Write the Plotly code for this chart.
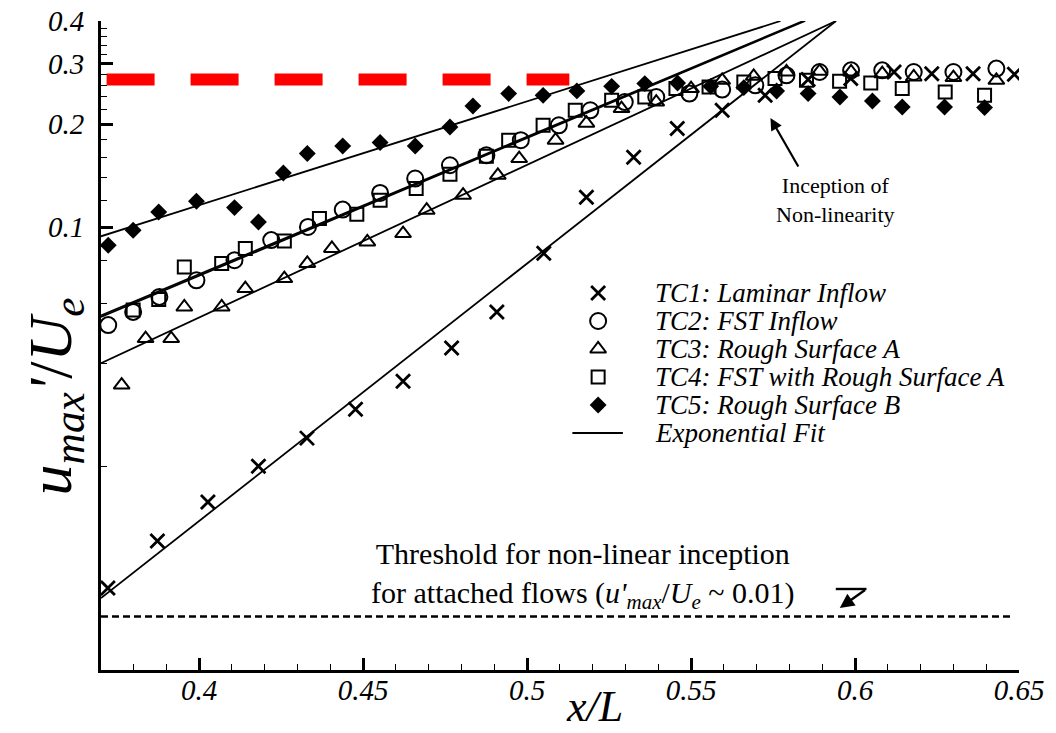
import math
import plotly.graph_objects as go

# ---- measured peak disturbance amplitude u'max/Ue along x/L ----
tc1_x = [0.3722, 0.3873, 0.4027, 0.4181, 0.4329, 0.4477, 0.4622, 0.4770, 0.4908, 0.5051,
         0.5181, 0.5325, 0.5458, 0.5595, 0.5726, 0.5857, 0.5987, 0.6119, 0.6234, 0.6360, 0.6486]
tc1_u = [0.00884, 0.01213, 0.01576, 0.02007, 0.02423, 0.02944, 0.03553, 0.0444, 0.0566, 0.0839,
         0.1223, 0.1601, 0.1941, 0.2195, 0.2427, 0.2698, 0.2716, 0.2839, 0.2808, 0.2808, 0.2795]

tc2_x = [0.3723, 0.3799, 0.3879, 0.3992, 0.4108, 0.4220, 0.4332, 0.4438, 0.4552, 0.4659,
         0.4765, 0.4876, 0.4981, 0.5097, 0.5193, 0.5298, 0.5394, 0.5495, 0.5595, 0.5696,
         0.5791, 0.5892, 0.5988, 0.6083, 0.6179, 0.6300, 0.6431]
tc2_u = [0.0518, 0.0566, 0.0626, 0.0700, 0.0801, 0.0917, 0.1002, 0.1126, 0.1259, 0.1387,
         0.1517, 0.1622, 0.1795, 0.1984, 0.2195, 0.2320, 0.2400, 0.2455, 0.2522, 0.2596,
         0.2776, 0.2839, 0.2871, 0.2871, 0.2839, 0.2839, 0.2905]

tc3_x = [0.3764, 0.3837, 0.3915, 0.3955, 0.4069, 0.4141, 0.4260, 0.4330, 0.4405, 0.4513,
         0.4622, 0.4694, 0.4805, 0.4911, 0.4976, 0.5087, 0.5181, 0.5288, 0.5394, 0.5500,
         0.5595, 0.5691, 0.5791, 0.5892, 0.5988, 0.6083, 0.6179, 0.6300, 0.6431]
tc3_u = [0.0346, 0.0473, 0.0473, 0.0585, 0.0585, 0.0662, 0.0708, 0.0784, 0.0867, 0.0906,
         0.0958, 0.1121, 0.1240, 0.1418, 0.1586, 0.1795, 0.2013, 0.2220, 0.2320, 0.2539,
         0.2685, 0.2758, 0.2839, 0.2852, 0.2839, 0.2808, 0.2745, 0.2734, 0.2685]

tc4_x = [0.3799, 0.3877, 0.3955, 0.4069, 0.4141, 0.4260, 0.4367, 0.4481, 0.4552, 0.4662,
         0.4765, 0.4876, 0.4944, 0.5049, 0.5147, 0.5258, 0.5359, 0.5454, 0.5555, 0.5661,
         0.5756, 0.5852, 0.5953, 0.6048, 0.6144, 0.6275, 0.6395]
tc4_u = [0.0573, 0.0615, 0.0766, 0.0784, 0.0867, 0.0912, 0.1060, 0.1091, 0.1199, 0.1297,
         0.1428, 0.1611, 0.1795, 0.1984, 0.2195, 0.2347, 0.2400, 0.2539, 0.2566, 0.2655,
         0.2716, 0.2685, 0.2667, 0.2637, 0.2539, 0.2482, 0.2427]

tc5_x = [0.3723, 0.3799, 0.3877, 0.3992, 0.4108, 0.4181, 0.4257, 0.4330, 0.4438, 0.4552,
         0.4659, 0.4765, 0.4835, 0.4944, 0.5049, 0.5152, 0.5258, 0.5359, 0.5459, 0.5560,
         0.5661, 0.5761, 0.5857, 0.5954, 0.6053, 0.6144, 0.6273, 0.6395]
tc5_u = [0.0886, 0.0980, 0.1108, 0.1191, 0.1141, 0.1036, 0.1440, 0.1641, 0.1727, 0.1767,
         0.1727, 0.1962, 0.2259, 0.2455, 0.2427, 0.2500, 0.2578, 0.2626, 0.2637, 0.2578,
         0.2556, 0.2498, 0.2455, 0.2400, 0.2336, 0.2244, 0.2244, 0.2235]

# ---- exponential fits (straight lines on the log axis), end points ----
tc1_fit_x = [0.3701, 0.5942]
tc1_fit_u = [0.00827, 0.40]
tc2_fit_x = [0.3701, 0.5842]
tc2_fit_u = [0.0553, 0.40]
tc3_fit_x = [0.3701, 0.5942]
tc3_fit_u = [0.0401, 0.40]
tc4_fit_x = [0.3701, 0.5848]
tc4_fit_u = [0.0547, 0.40]
tc5_fit_x = [0.3701, 0.5773]
tc5_fit_u = [0.0941, 0.40]

# ---- reference levels ----
saturation_x = [0.3718, 0.5129]
saturation_u = [0.27, 0.27]
threshold_x = [0.3701, 0.6482]
threshold_u = [0.0073, 0.0073]

# ---- axis ticks ----
x_ticks = [0.4, 0.45, 0.5, 0.55, 0.6, 0.65]
x_tick_text = ["0.4", "0.45", "0.5", "0.55", "0.6", "0.65"]
y_ticks = [0.1, 0.2, 0.3, 0.4]
y_tick_text = ["0.1", "0.2", "0.3", "0.4"]
y_minor_ticks = [0.02, 0.04, 0.06, 0.08, 0.12, 0.14, 0.16, 0.18, 0.22, 0.24, 0.26, 0.28,
                 0.32, 0.34, 0.36, 0.38]

SERIF = "Liberation Serif"
BLACK = "black"

fig = go.Figure()

fit_line = dict(color=BLACK, width=1.8)
for fx, fu in [(tc5_fit_x, tc5_fit_u), (tc2_fit_x, tc2_fit_u), (tc4_fit_x, tc4_fit_u),
               (tc3_fit_x, tc3_fit_u), (tc1_fit_x, tc1_fit_u)]:
    fig.add_trace(go.Scatter(x=fx, y=fu, mode="lines", line=fit_line, showlegend=False,
                             hoverinfo="skip"))

fig.add_trace(go.Scatter(x=saturation_x, y=saturation_u, mode="lines",
                         line=dict(color="#ff0000", width=12, dash="48px,36px"),
                         showlegend=False, hoverinfo="skip"))
fig.add_trace(go.Scatter(x=threshold_x, y=threshold_u, mode="lines",
                         line=dict(color=BLACK, width=2.5, dash="7px,4px"),
                         showlegend=False, hoverinfo="skip"))

series = [
    ("TC1: Laminar Inflow", tc1_x, tc1_u,
     dict(symbol="x-thin", size=14, line=dict(color=BLACK, width=2.8), color=BLACK)),
    ("TC2: FST Inflow", tc2_x, tc2_u,
     dict(symbol="circle-open", size=16, line=dict(color=BLACK, width=2), color=BLACK)),
    ("TC3: Rough Surface A", tc3_x, tc3_u,
     dict(symbol="triangle-up-open", size=14, line=dict(color=BLACK, width=2), color=BLACK)),
    ("TC4: FST with Rough Surface A", tc4_x, tc4_u,
     dict(symbol="square-open", size=13, line=dict(color=BLACK, width=2), color=BLACK)),
    ("TC5: Rough Surface B", tc5_x, tc5_u,
     dict(symbol="diamond", size=13, color=BLACK, line=dict(width=0))),
]
for name, xs, us, mk in series:
    fig.add_trace(go.Scatter(x=xs, y=us, mode="markers", name=name, marker=mk,
                             showlegend=False))

# ---- legend block drawn on a pixel-scaled overlay ----
PX_L, PX_R, PX_T, PX_B = 101, 1028, 21, 670
leg_sym_x = 603
leg_text_x = 658
leg_rows = [293, 321, 349, 377, 405, 433]
for (name, _, _, mk), row in zip(series, leg_rows):
    fig.add_trace(go.Scatter(x=[leg_sym_x], y=[row], mode="markers", marker=mk,
                             xaxis="x2", yaxis="y2", showlegend=False, hoverinfo="skip"))
fig.add_trace(go.Scatter(x=[577, 628], y=[leg_rows[-1]] * 2, mode="lines",
                         line=dict(color=BLACK, width=2.2), xaxis="x2", yaxis="y2",
                         showlegend=False, hoverinfo="skip"))

legend_labels = [s[0] for s in series] + ["Exponential Fit"]
annotations = []
for label, row in zip(legend_labels, leg_rows):
    annotations.append(dict(x=leg_text_x, y=row, xref="x2", yref="y2", text=label,
                            showarrow=False, xanchor="left", yanchor="middle",
                            font=dict(family=SERIF, size=27, style="italic", color=BLACK)))

# y tick labels, right-aligned next to the axis line
for val, txt in zip(y_ticks, y_tick_text):
    annotations.append(dict(x=(86 - PX_L) / (PX_R - PX_L), y=math.log10(val),
                            xref="paper", yref="y", text=txt, showarrow=False,
                            xanchor="right", yanchor="middle",
                            font=dict(family=SERIF, size=29, style="italic", color=BLACK)))

# inception callout
annotations.append(dict(x=843, y=200, xref="x2", yref="y2",
                        text="Inception of<br>Non-linearity", showarrow=False,
                        font=dict(family=SERIF, size=22, color=BLACK)))
annotations.append(dict(x=777, y=118, xref="x2", yref="y2", ax=806, ay=168,
                        axref="x2", ayref="y2", text="", showarrow=True,
                        arrowhead=2, arrowsize=1.1, arrowwidth=2.2, arrowcolor=BLACK))

# threshold callout
annotations.append(dict(x=588, y=575, xref="x2", yref="y2",
                        text="Threshold for non-linear inception<br>for attached flows "
                             "(<i>u'</i><sub><i>max</i></sub>/<i>U</i><sub><i>e</i></sub> ~ 0.01)",
                        showarrow=False,
                        font=dict(family=SERIF, size=30, color=BLACK)))
annotations.append(dict(x=847, y=608, xref="x2", yref="y2", ax=874, ay=589,
                        axref="x2", ayref="y2", text="", showarrow=True,
                        arrowhead=2, arrowsize=1.2, arrowwidth=2.4, arrowcolor=BLACK))

# axis titles
annotations.append(dict(x=-0.095, y=0.422, xref="paper", yref="paper", textangle=-90,
                        text="<i>u</i><sub><i>max</i></sub><i>'</i>/<i>U</i><sub><i>e</i></sub>",
                        showarrow=False, font=dict(family=SERIF, size=62, color=BLACK)))
annotations.append(dict(x=0.538, y=-0.097, xref="paper", yref="paper",
                        text="<i>x/L</i>", showarrow=False, yanchor="bottom",
                        font=dict(family=SERIF, size=44, color=BLACK)))

shapes = [dict(type="line", xref="x2", yref="y2", x0=843, x1=874, y0=589, y1=589,
               line=dict(color=BLACK, width=2.4))]

fig.update_layout(
    width=1056, height=733,
    margin=dict(l=PX_L, r=1056 - PX_R, t=PX_T, b=733 - PX_B),
    paper_bgcolor="white", plot_bgcolor="white",
    showlegend=False,
    font=dict(family=SERIF, color=BLACK),
    xaxis=dict(
        range=[0.3701, 0.65], showgrid=False, zeroline=False,
        showline=True, linecolor=BLACK, linewidth=3,
        tickvals=x_ticks, ticktext=x_tick_text,
        ticks="inside", ticklen=12, tickwidth=2.5, tickcolor=BLACK,
        ticklabelstandoff=-8,
        tickfont=dict(family=SERIF, size=29, style="italic", color=BLACK),
        minor=dict(dtick=0.01, tick0=0.4, ticks="inside", ticklen=6, tickwidth=1.3,
                   tickcolor=BLACK, showgrid=False),
    ),
    yaxis=dict(
        type="log", range=[-2.2926, -0.39794], showgrid=False, zeroline=False,
        showline=True, linecolor=BLACK, linewidth=3,
        tickvals=y_ticks, showticklabels=False,
        ticks="inside", ticklen=12, tickwidth=2.5, tickcolor=BLACK,
        minor=dict(tickmode="array", tickvals=y_minor_ticks, ticks="inside", ticklen=6,
                   tickwidth=1.3, tickcolor=BLACK, showgrid=False),
    ),
    xaxis2=dict(range=[PX_L, PX_R], overlaying="x", anchor="y2", visible=False),
    yaxis2=dict(range=[PX_B, PX_T], overlaying="y", anchor="x2", visible=False),
    annotations=annotations,
    shapes=shapes,
)

fig.write_html("out.html")
